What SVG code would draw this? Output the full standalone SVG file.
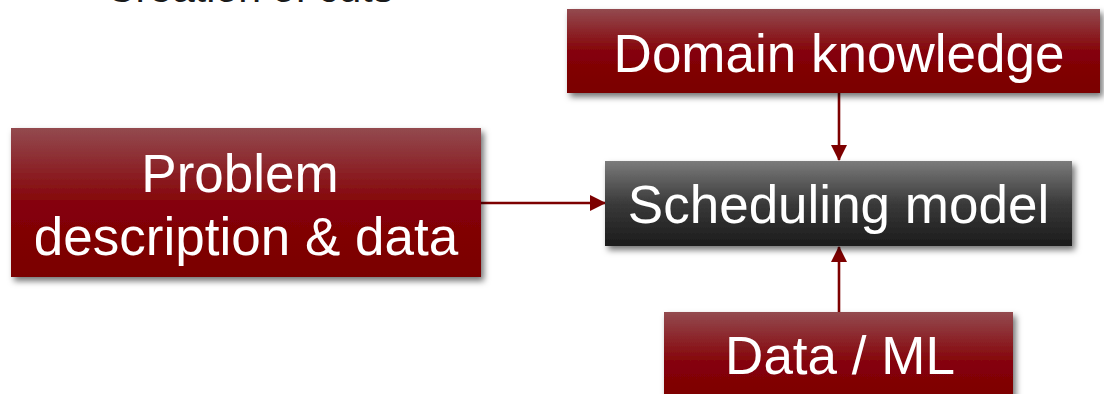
<svg xmlns="http://www.w3.org/2000/svg" width="1104" height="394" viewBox="0 0 1104 394">
  <defs>
    <linearGradient id="redFill" x1="0" y1="0" x2="0" y2="1">
      <stop offset="0" stop-color="#934a4f"/>
      <stop offset="0.5" stop-color="#850409"/>
      <stop offset="1" stop-color="#7a0000"/>
    </linearGradient>
    <linearGradient id="darkFill" x1="0" y1="0" x2="0" y2="1">
      <stop offset="0" stop-color="#7b7b7b"/>
      <stop offset="0.5" stop-color="#3a3a3a"/>
      <stop offset="1" stop-color="#1b1b1b"/>
    </linearGradient>
    <filter id="shadow" x="-10%" y="-20%" width="120%" height="150%">
      <feDropShadow dx="3" dy="4" stdDeviation="3" flood-color="#000" flood-opacity="0.55"/>
    </filter>
    <marker id="arrow" viewBox="0 0 16 16" refX="15" refY="8" markerWidth="16" markerHeight="16" markerUnits="userSpaceOnUse" orient="auto">
      <path d="M0,0 L16,8 L0,16 Z" fill="#7d0000"/>
    </marker>
    <style>
      .box-red { fill: url(#redFill); filter: url(#shadow); }
      .box-dark { fill: url(#darkFill); filter: url(#shadow); }
      .label { font-family: "Liberation Sans", Arial, sans-serif; font-size: 53px; fill: #ffffff; text-anchor: middle; }
      .title { font-family: "Liberation Sans", Arial, sans-serif; font-size: 41px; fill: #1a1a1a; }
      .link { stroke: #7d0000; stroke-width: 2.6; fill: none; marker-end: url(#arrow); }
    </style>
  </defs>

  <!-- heading, mostly above the top edge -->
  <text class="title" x="106" y="2">Creation of cuts</text>

  <g id="connectors">
    <line class="link" x1="839" y1="93" x2="839" y2="160"/>
    <line class="link" x1="481" y1="203" x2="605" y2="203"/>
    <line class="link" x1="839" y1="312" x2="839" y2="247"/>
  </g>

  <g id="domain-knowledge">
    <rect class="box-red" x="567" y="9" width="533" height="84"/>
    <text class="label" x="839" y="72">Domain knowledge</text>
  </g>

  <g id="problem-description">
    <rect class="box-red" x="11" y="128" width="470" height="149"/>
    <text class="label" x="240" y="192">Problem</text>
    <text class="label" x="246" y="255">description &amp; data</text>
  </g>

  <g id="scheduling-model">
    <rect class="box-dark" x="605" y="161" width="467" height="85"/>
    <text class="label" x="838.5" y="223">Scheduling model</text>
  </g>

  <g id="data-ml">
    <rect class="box-red" x="664" y="312" width="349" height="100"/>
    <text class="label" x="840" y="374">Data / ML</text>
  </g>
</svg>
